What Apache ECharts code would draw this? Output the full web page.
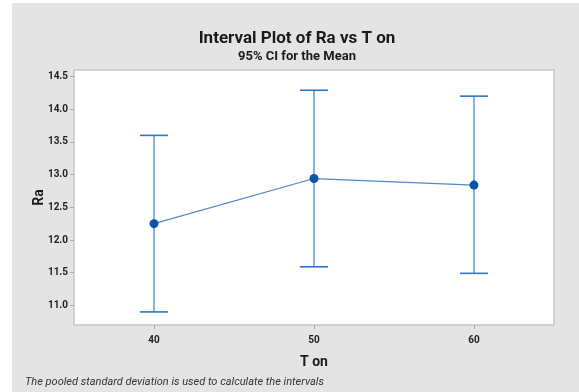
<!DOCTYPE html>
<html>
<head>
<meta charset="utf-8">
<style>
  html, body { margin: 0; padding: 0; background: #ffffff; }
  #chart { width: 579px; height: 392px; }
</style>
<script src="https://cdn.jsdelivr.net/npm/echarts@6/dist/echarts.min.js"></script>
</head>
<body>
<div id="chart"></div>
<script>
// Interval plot: mean Ra with 95% CI at each T on level
const tOn = [40, 50, 60];
const raMean = [12.25, 12.94, 12.84];
const raLower = [10.90, 11.59, 11.49];
const raUpper = [13.60, 14.29, 14.20];
const yTicks = [11.0, 11.5, 12.0, 12.5, 13.0, 13.5, 14.0, 14.5];

const chart = echarts.init(document.getElementById('chart'), null, { renderer: 'canvas' });

const intervalData = tOn.map((t, i) => [t, raLower[i], raUpper[i]]);
const meanData = tOn.map((t, i) => [t, raMean[i]]);

const option = {
  backgroundColor: '#ffffff',
  animation: false,
  graphic: [
    {
      type: 'rect', z: -100, silent: true,
      shape: { x: 12, y: 3, width: 579 - 12, height: 392 - 3 },
      style: { fill: '#e4e4e4' }
    },
    {
      type: 'text', left: 25, top: 377, silent: true,
      style: {
        text: 'The pooled standard deviation is used to calculate the intervals',
        font: 'italic 11px Roboto, sans-serif',
        fill: '#333333'
      }
    }
  ],
  title: {
    text: 'Interval Plot of Ra vs T on',
    subtext: '95% CI for the Mean',
    left: 292, top: 25, textAlign: 'center',
    itemGap: 3,
    textStyle: { fontFamily: 'Roboto', fontSize: 17, fontWeight: 'bold', color: '#1a1a1a' },
    subtextStyle: { fontFamily: 'Roboto', fontSize: 13, fontWeight: 'bold', color: '#1a1a1a' }
  },
  grid: {
    left: 74, right: 25, top: 70, bottom: 67,
    show: true, backgroundColor: '#ffffff',
    borderColor: '#c6c6c6', borderWidth: 1.5
  },
  xAxis: {
    type: 'value', min: 35, max: 65, interval: 5,
    name: 'T on', nameLocation: 'middle', nameGap: 30,
    nameTextStyle: { fontFamily: 'Roboto', fontSize: 14, fontWeight: 'bold', color: '#1a1a1a' },
    axisLine: { show: false },
    axisTick: { show: true, length: 4, lineStyle: { color: '#aaaaaa' },
      customValues: tOn },
    axisLabel: { fontFamily: 'Roboto', fontSize: 10, fontWeight: 'bold', color: '#222222', margin: 10,
      customValues: tOn },
    splitLine: { show: false }
  },
  yAxis: {
    type: 'value', min: 10.7, max: 14.6,
    name: 'Ra', nameLocation: 'middle', nameGap: 28, nameRotate: 90,
    nameMoveOverlap: false,
    nameTextStyle: { fontFamily: 'Roboto', fontSize: 14, fontWeight: 'bold', color: '#1a1a1a' },
    axisLine: { show: false },
    axisTick: { show: true, length: 4, lineStyle: { color: '#aaaaaa' }, customValues: yTicks },
    axisLabel: { fontFamily: 'Roboto', fontSize: 10, fontWeight: 'bold', color: '#222222', margin: 6,
      customValues: yTicks, formatter: v => v.toFixed(1) },
    splitLine: { show: false }
  },
  series: [
    {
      type: 'custom',
      data: intervalData,
      z: 2,
      renderItem: function (params, api) {
        const x = api.value(0);
        const lo = api.coord([x, api.value(1)]);
        const hi = api.coord([x, api.value(2)]);
        const half = 14;
        return {
          type: 'group',
          children: [
            { type: 'line', shape: { x1: lo[0], y1: lo[1], x2: hi[0], y2: hi[1] },
              style: { stroke: '#6a9fd8', lineWidth: 1.6 } },
            { type: 'line', shape: { x1: hi[0] - half, y1: hi[1], x2: hi[0] + half, y2: hi[1] },
              style: { stroke: '#2f74c8', lineWidth: 1.6 } },
            { type: 'line', shape: { x1: lo[0] - half, y1: lo[1], x2: lo[0] + half, y2: lo[1] },
              style: { stroke: '#2f74c8', lineWidth: 1.6 } }
          ]
        };
      }
    },
    {
      type: 'line',
      data: meanData,
      z: 3,
      symbol: 'circle', symbolSize: 9,
      lineStyle: { color: '#4f88c9', width: 1.2 },
      itemStyle: { color: '#0a55a8' }
    }
  ]
};

chart.setOption(option);
</script>
</body>
</html>
